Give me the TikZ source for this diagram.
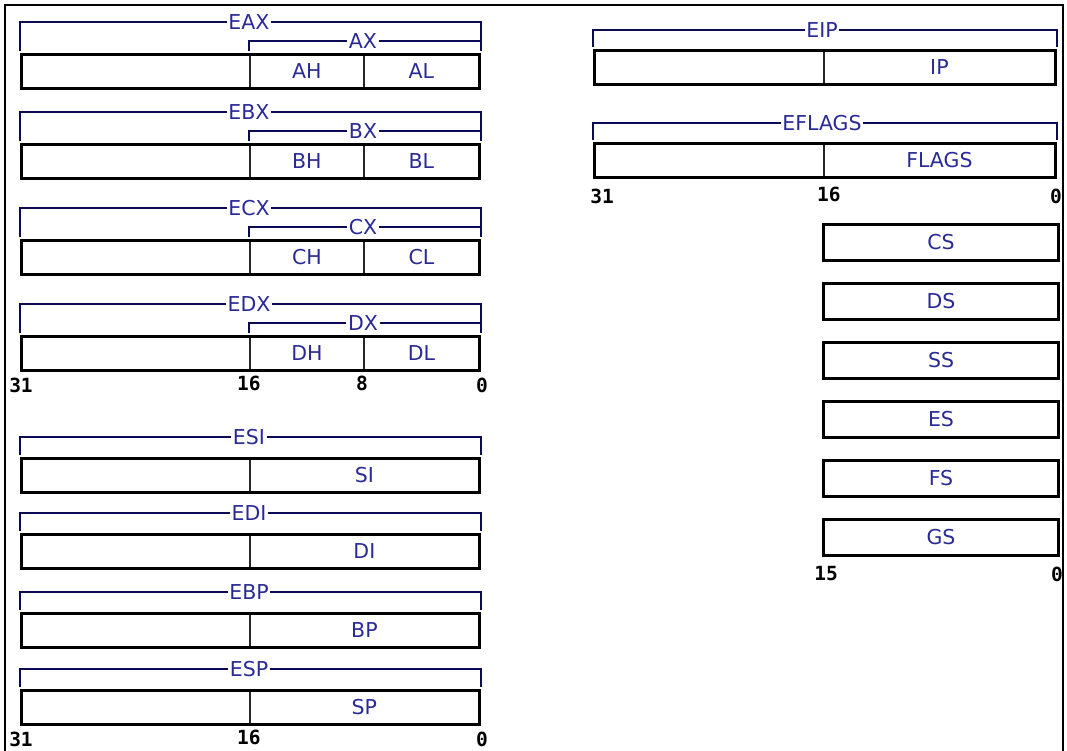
\documentclass[tikz,border=0pt]{standalone}
\usepackage{fontspec}
\setmainfont{DejaVu Sans}
\newfontfamily\bitfont{DejaVu Sans Mono}
\usetikzlibrary{calc}
\definecolor{regink}{HTML}{2A2A96}
\definecolor{brkink}{HTML}{0B0B55}
\tikzset{
  cell/.style={draw=black!85, line width=1.8pt, anchor=north west, minimum height=34pt, inner sep=0pt, text=regink, font=\fontsize{20.5}{22}\selectfont},
  outer/.style={draw=black, line width=3pt, anchor=north west, minimum height=34pt, inner sep=0pt},
  seg/.style={outer, minimum width=235pt, minimum height=36pt, text=regink, font=\fontsize{20.5}{22}\selectfont},
  tag/.style={fill=white, inner sep=1.5pt, text=regink, font=\fontsize{20.5}{22}\selectfont},
  brk/.style={draw=brkink, line width=2.8pt},
  bit/.style={font=\bitfont\bfseries\fontsize{19.5}{20}\selectfont, inner sep=0pt},
  frame/.style={draw=black, line width=1.8pt},
}
\begin{document}
\begin{tikzpicture}[x=1pt, y=-1pt]
  \useasboundingbox (0,0) rectangle (1067,751);
  \draw[frame] (5,751) -- (5,5) -- (1063,5) -- (1063,751);
  % general purpose registers
  \foreach \r/\t in {A/53,B/143,C/239,D/335}{
    \node[cell, minimum width=229pt] (E\r Xhi) at (20,\t) {};
    \node[cell, minimum width=114pt] (\r H) at (249,\t) {\r H};
    \node[cell, minimum width=115pt] (\r L) at (363,\t) {\r L};
    \node[outer, minimum width=458pt] (E\r X) at (20,\t) {};
    \node[tag] (E\r Xl) at (249,{\t-31}) {E\r X};
    \node[tag] (\r Xl) at (363,{\t-12}) {\r X};
    \draw[brk] ([yshift=2pt]E\r X.north west) |- (E\r Xl);
    \draw[brk] (E\r Xl) -| ([yshift=2pt]E\r X.north east);
    \draw[brk] ([yshift=2pt]\r H.north west) |- (\r Xl);
    \draw[brk] (\r Xl) -- (\r Xl -| \r L.north east);
  }
  % index and pointer registers
  \foreach \r/\t in {SI/457,DI/533,BP/612,SP/689}{
    \node[cell, minimum width=229pt] (E\r hi) at (20,\t) {};
    \node[cell, minimum width=229pt] (\r) at (249,\t) {\r};
    \node[outer, minimum width=458pt] (E\r) at (20,\t) {};
    \node[tag] (E\r l) at (249,{\t-20}) {E\r};
    \draw[brk] ([yshift=2pt]E\r.north west) |- (E\r l);
    \draw[brk] (E\r l) -| ([yshift=2pt]E\r.north east);
  }
  % instruction pointer and flags
  \foreach \r/\t in {IP/49,FLAGS/142}{
    \node[cell, minimum width=230pt] (E\r hi) at (593,\t) {};
    \node[cell, minimum width=231pt] (\r) at (823,\t) {\r};
    \node[outer, minimum width=461pt] (E\r) at (593,\t) {};
    \node[tag] (E\r l) at (822,{\t-19}) {E\r};
    \draw[brk] ([yshift=2pt]E\r.north west) |- (E\r l);
    \draw[brk] (E\r l) -| ([yshift=2pt]E\r.north east);
  }
  % segment registers
  \foreach \r [count=\i from 0] in {CS,DS,SS,ES,FS,GS}
    \node[seg] (\r) at (822,{223+59*\i}) {\r};
  % bit numbers
  \node[bit] (dx31) at ($(EDX.south west)+(1,13)$) {31};
  \node[bit] (dx16) at ($(EDXhi.south east)+(-2,13)$) {16};
  \node[bit] (dx8) at ($(DL.south west)+(-1,13)$) {8};
  \node[bit] (dx0) at ($(EDX.south east)+(1,13)$) {0};
  \node[bit] (sp31) at ($(ESP.south west)+(1,13)$) {31};
  \node[bit] (sp16) at ($(ESPhi.south east)+(-2,13)$) {16};
  \node[bit] (sp0) at ($(ESP.south east)+(1,13)$) {0};
  \node[bit] (fl31) at ($(EFLAGS.south west)+(9,17)$) {31};
  \node[bit] (fl16) at ($(EFLAGShi.south east)+(4,17)$) {16};
  \node[bit] (fl0) at ($(EFLAGS.south east)+(-1,17)$) {0};
  \node[bit] (gs15) at ($(GS.south west)+(4,17)$) {15};
  \node[bit] (gs0) at ($(GS.south east)+(-3,17)$) {0};
\end{tikzpicture}
\end{document}
